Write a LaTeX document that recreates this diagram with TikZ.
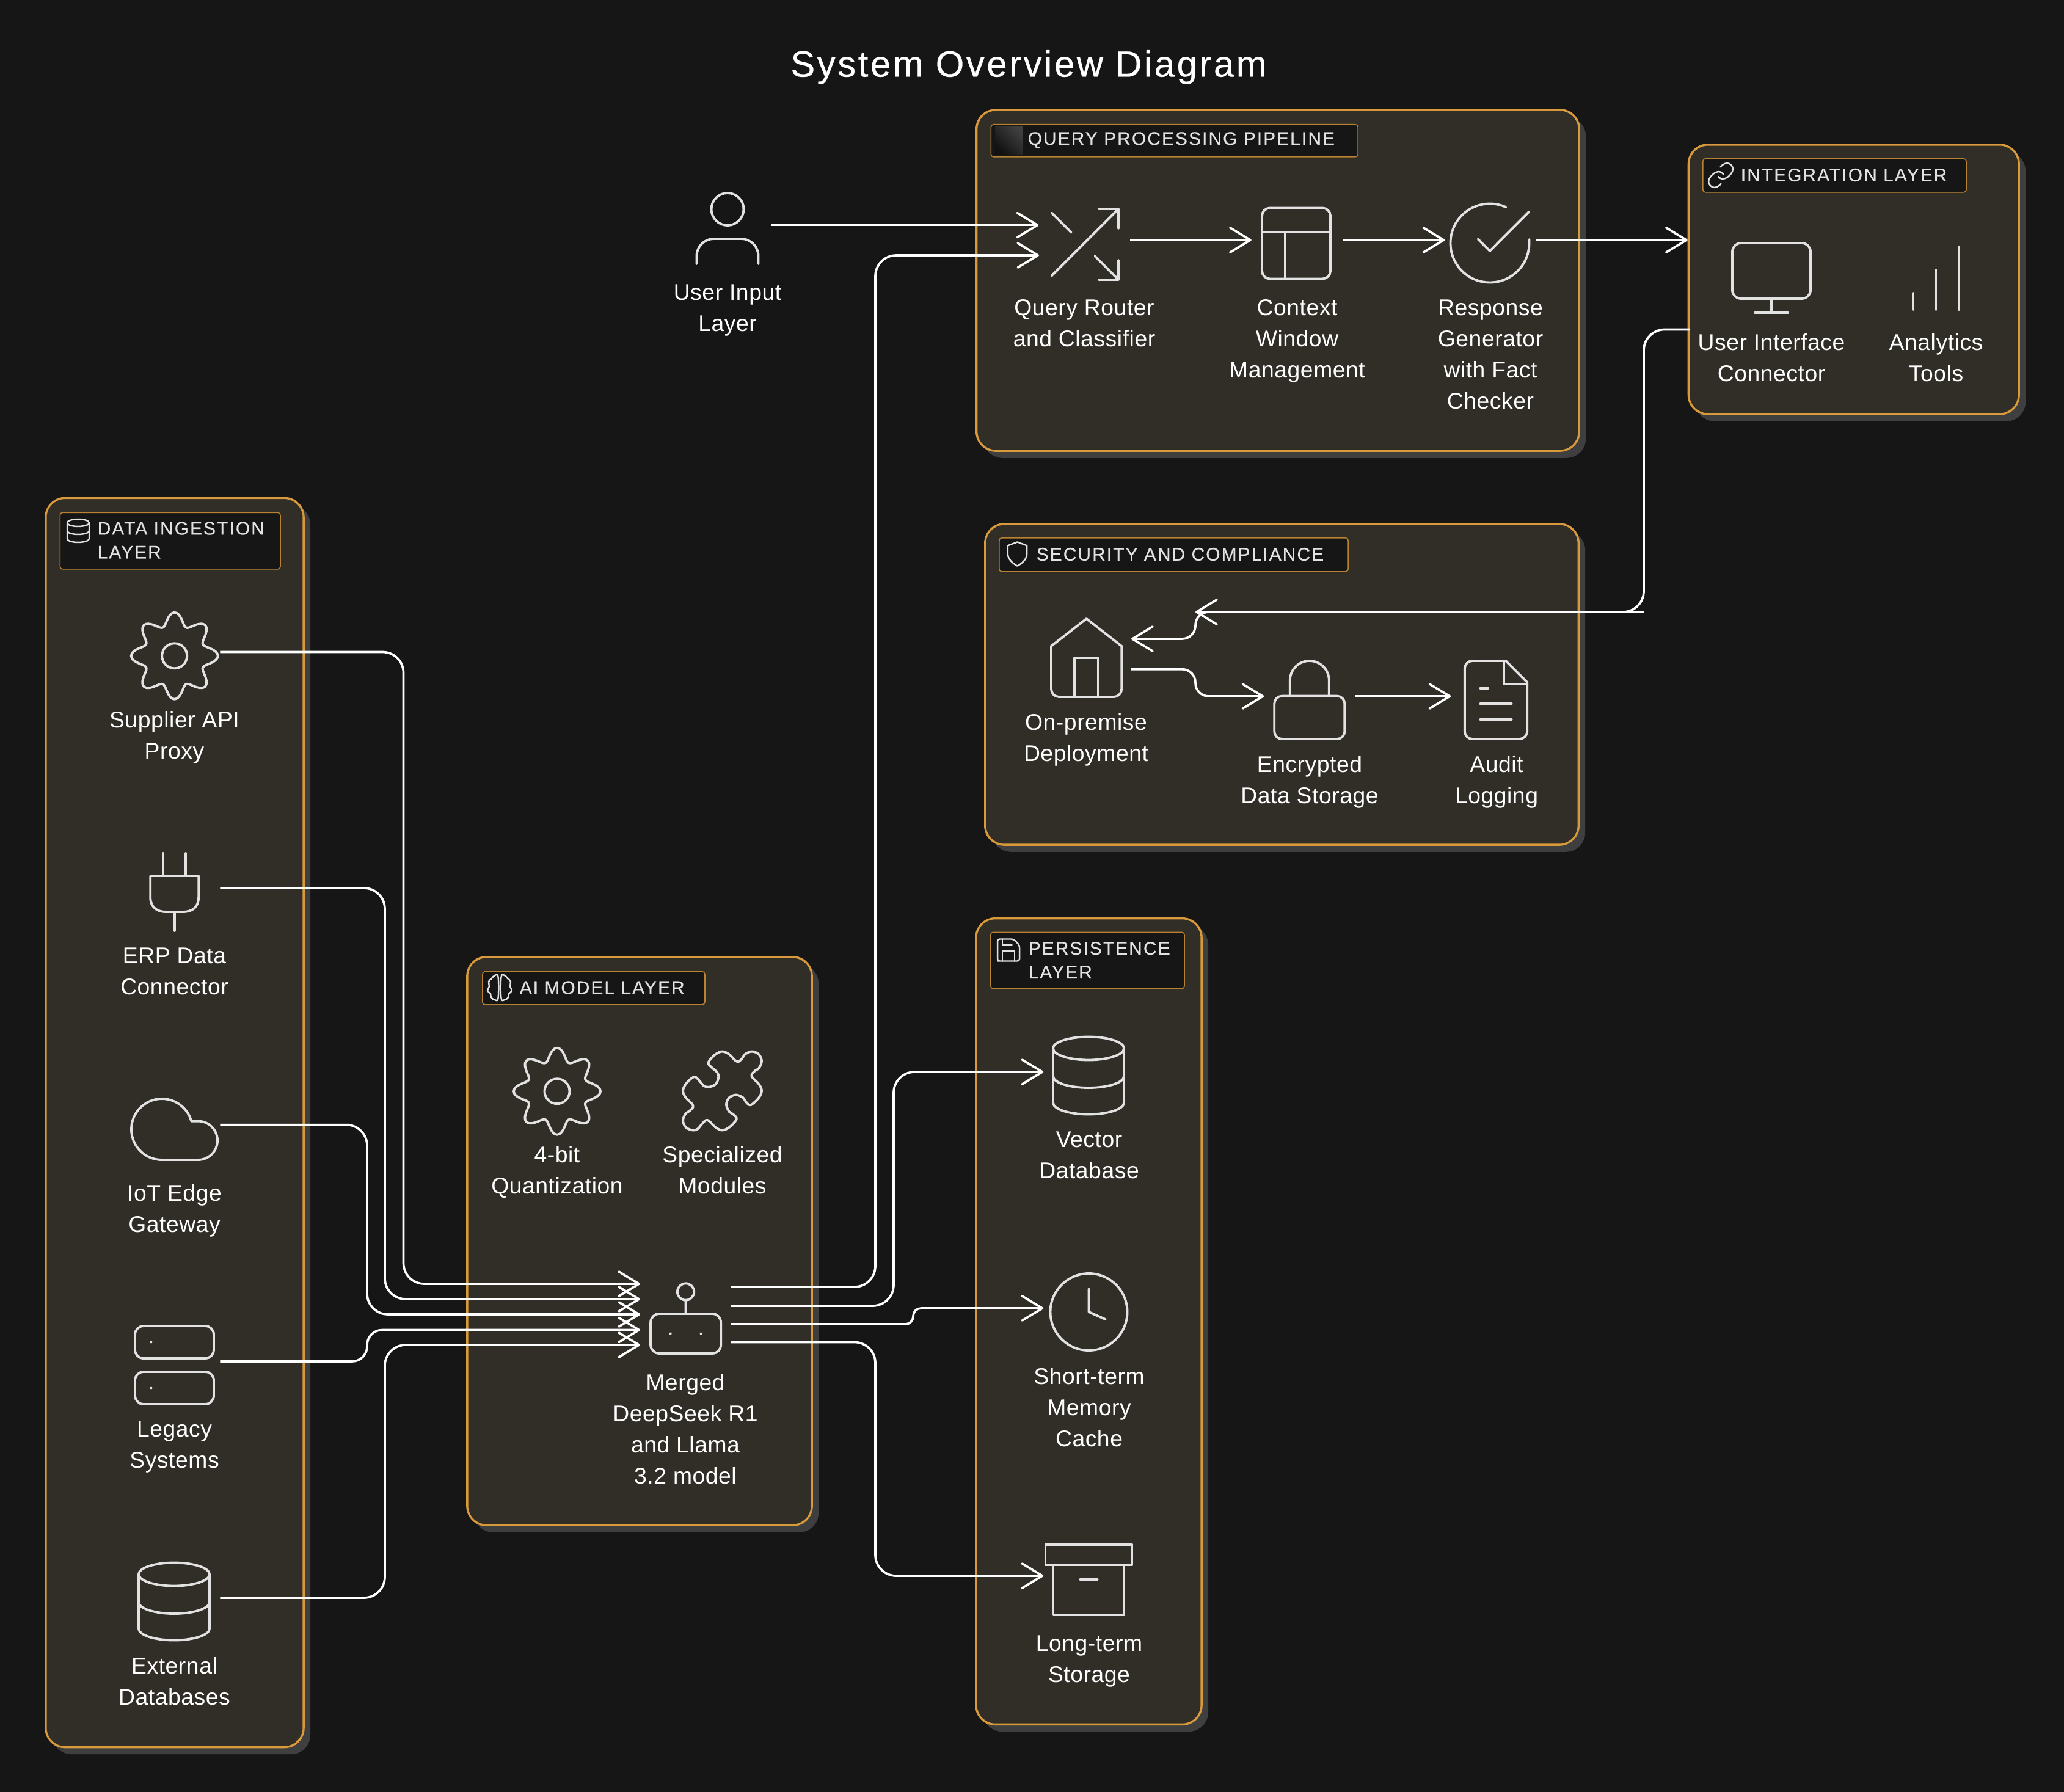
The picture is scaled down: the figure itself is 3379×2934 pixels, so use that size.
\documentclass[tikz,border=0pt]{standalone}
\usepackage{fontspec}
\usepackage{tikz}
\usetikzlibrary{arrows.meta, positioning, shadows}
\setmainfont{Liberation Sans}
\newfontfamily\captionface{Liberation Sans}[LetterSpace=1.5]
\newfontfamily\headface{Liberation Sans}[FakeBold=0.3,LetterSpace=7]
\newfontfamily\titleface{Liberation Sans}[FakeBold=0.4,LetterSpace=6]

\definecolor{bgdark}{HTML}{161616}
\definecolor{panelfill}{HTML}{312E27}
\definecolor{panelline}{HTML}{D99A3C}
\definecolor{headline}{HTML}{B98231}
\definecolor{shadowgrey}{HTML}{3F3F3F}
\definecolor{iconwhite}{HTML}{E2E2E2}

\tikzset{
    panel/.style={draw=panelline, fill=panelfill, line width=0.95pt, rounded corners=9pt, inner sep=0pt,
        drop shadow={shadow xshift=3.1pt, shadow yshift=-3.3pt, opacity=1, fill=shadowgrey}},
    head/.style={draw=headline, fill=bgdark, line width=0.45pt, rounded corners=1.2pt, inner sep=0pt, anchor=north west},
    headtext/.style={text=iconwhite, inner sep=0pt, anchor=west, align=left, font=\headface\fontsize{8.5pt}{11.1pt}\selectfont},
    service/.style={minimum width=1.48cm, minimum height=1.48cm, inner sep=0pt},
    caption/.style={text=white, inner sep=0pt, align=center, font=\captionface\fontsize{10.6pt}{14.5pt}\selectfont},
    iconline/.style={draw=iconwhite, line width=1.1pt, line cap=round, line join=round},
    tinyline/.style={draw=iconwhite, line width=0.7pt, line cap=round, line join=round},
    flow/.style={draw=white, line width=1.05pt, rounded corners=9.7pt},
    lucide/.style={x=#1*0.01cm, y=-#1*0.01cm, shift={(-12,-12)}},
    % icons, drawn around the point they are placed at
    gearicon/.pic={
        \draw[iconline] plot[domain=0:360, samples=121, smooth] (\x:{60.5+10.5*cos(8*\x)}) -- cycle;
        \draw[iconline] (0,0) circle[radius=20.5];
    },
    plugicon/.pic={
        \draw[iconline] (-18.7,-63) -- (-18.7,-26) (18.7,-63) -- (18.7,-26) (0,33) -- (0,64);
        \draw[iconline] (-39.5,-26) -- (39.5,-26) -- (39.5,9) .. controls (39.5,26) and (28,33) .. (14,33)
            -- (-14,33) .. controls (-28,33) and (-39.5,26) .. (-39.5,9) -- cycle;
    },
    cloudicon/.pic={
        \draw[iconline] (38.8,51) -- (-20.5,51) arc[start angle=90, end angle=344.5, radius=50]
            -- (38.8,-12.4) arc[start angle=270, end angle=450, radius=31.7] -- cycle;
    },
    servericon/.pic={
        \draw[iconline, rounded corners=4pt] (-64.5,-64) rectangle (64.5,-11);
        \draw[iconline, rounded corners=4pt] (-64.5,11) rectangle (64.5,64);
        \fill[iconwhite] (-38,-37.5) circle[radius=2] (-38,37.5) circle[radius=2];
    },
    dbicon/.pic={
        \draw[iconline] (0,-44.5) ellipse[x radius=58, y radius=19];
        \draw[iconline] (-58,-44.5) -- (-58,44.5) arc[start angle=180, end angle=0, x radius=58, y radius=19] -- (58,-44.5);
        \draw[iconline] (-58,1) arc[start angle=180, end angle=0, x radius=58, y radius=19];
    },
    usericon/.pic={
        \draw[iconline] (0,-31.5) circle[radius=26.5];
        \draw[iconline, rounded corners=8pt] (-50.5,58) -- (-50.5,17) -- (50.5,17) -- (50.5,58);
    },
    shuffleicon/.pic={
        \begin{scope}[lucide=6.45]
        \draw[iconline] (16,3) -- (21,3) -- (21,8) (4,20) -- (21,3) (21,16) -- (21,21) -- (16,21) (15,15) -- (21,21) (4,4) -- (9,9);
        \end{scope}
    },
    layouticon/.pic={
        \draw[iconline, rounded corners=3.7pt] (-56,-58) rectangle (56,58);
        \draw[iconline] (-56,-18) -- (56,-18) (-18,-18) -- (-18,58);
    },
    checkicon/.pic={
        \begin{scope}[lucide=6.45]
        \draw[iconline] (22,11.08) -- (22,12) arc[start angle=0, end angle=294, radius=10];
        \draw[iconline] (22,4) -- (12,14.01) -- (9,11.01);
        \end{scope}
    },
    monitoricon/.pic={
        \draw[iconline, rounded corners=4pt] (-64,-57) rectangle (64,34);
        \draw[iconline] (0,34) -- (0,57) (-27,57) -- (27,57);
    },
    barsicon/.pic={
        \draw[iconline] (-37.5,24.5) -- (-37.5,51.5) (0,-13.5) -- (0,51.5) (37.5,-51.5) -- (37.5,51.5);
    },
    homeicon/.pic={
        \begin{scope}[lucide=6.4]
        \draw[iconline] (3,9) -- (12,2) -- (21,9) -- (21,20) arc[start angle=0, end angle=90, radius=2]
            -- (5,22) arc[start angle=90, end angle=180, radius=2] -- cycle;
        \draw[iconline] (9,22) -- (9,12) -- (15,12) -- (15,22);
        \end{scope}
    },
    lockicon/.pic={
        \begin{scope}[lucide=6.4]
        \draw[iconline, rounded corners=3.6pt] (3,11) rectangle (21,22);
        \draw[iconline] (7,11) -- (7,7) arc[start angle=180, end angle=360, radius=5] -- (17,11);
        \end{scope}
    },
    fileicon/.pic={
        \begin{scope}[lucide=6.4]
        \draw[iconline] (14.5,2) -- (6,2) arc[start angle=270, end angle=180, radius=2] -- (4,20)
            arc[start angle=180, end angle=90, radius=2] -- (18,22) arc[start angle=90, end angle=0, radius=2] -- (20,7.5) -- cycle;
        \draw[iconline] (14,2) -- (14,8) -- (20,8) (16,13) -- (8,13) (16,17) -- (8,17) (10,9) -- (8,9);
        \end{scope}
    },
    clockicon/.pic={
        \draw[iconline] (0,0) circle[radius=63];
        \draw[iconline] (0,-38) -- (0,0) -- (27,12);
    },
    archiveicon/.pic={
        \draw[iconline] (-71,-57) rectangle (71,-24);
        \draw[iconline] (-58,-24) -- (-58,58) -- (58,58) -- (58,-24) (-14,0) -- (14,0);
    },
    boticon/.pic={
        \draw[iconline, rounded corners=4pt] (-57.5,-14) rectangle (57.5,51);
        \draw[iconline] (0,-50) circle[radius=13.7] (0,-36.3) -- (0,-14);
        \fill[iconwhite] (-25,18.5) circle[radius=2] (25,18.5) circle[radius=2];
    },
    puzzleicon/.pic={
        \begin{scope}[lucide=6.45]
        \draw[iconline] plot[smooth cycle, tension=0.55] coordinates {
            (19.44,7.85) (19.73,8.73) (21.3,10.3) (22,12) (21.3,13.7) (19.69,15.31) (18.85,15.59) (17.88,14.66)
            (17.27,13.73) (15.5,13) (13.73,13.73) (13,15.5) (13.73,17.27) (14.67,17.88) (15.6,18.85) (15.32,19.69)
            (13.7,21.3) (12,22) (10.3,21.3) (8.73,19.73) (7.85,19.44) (6.83,20.41) (5.75,21.67) (4.5,22) (2.73,21.27)
            (2,19.5) (2.73,17.73) (3.59,17.17) (4.56,16.15) (4.27,15.27) (2.7,13.7) (2,12) (2.7,10.3) (4.23,8.77)
            (5.15,8.47) (6.22,9.48) (7.29,10.7) (8.54,11.04) (10.31,10.31) (11.04,8.54) (10.7,7.29) (9.48,6.22)
            (8.47,5.15) (8.77,4.23) (10.3,2.7) (12,2) (13.7,2.7) (15.27,4.27) (16.15,4.56) (17.17,3.59) (17.73,2.73)
            (19.5,2) (21.27,2.73) (22,4.5) (21.27,6.27) (20.41,6.83)};
        \end{scope}
    },
    % header icons
    tinydb/.pic={
        \draw[tinyline] (0,-13) ellipse[x radius=18, y radius=6];
        \draw[tinyline] (-18,-13) -- (-18,13) arc[start angle=180, end angle=0, x radius=18, y radius=6] -- (18,-13);
        \draw[tinyline] (-18,0) arc[start angle=180, end angle=0, x radius=18, y radius=6];
    },
    tinybrain/.pic={
        \foreach \s in {1,-1} {
            \draw[tinyline, xscale=\s] plot[smooth cycle, tension=0.7] coordinates {
                (2.5,-17) (8,-20) (13,-15) (18,-10) (17,-2) (20,5) (15,10) (14,16) (8,20) (2.5,17)};
        }
    },
    tinysave/.pic={
        \begin{scope}[lucide=2]
        \draw[tinyline, rounded corners=1pt] (5,21) -- (3,21) -- (3,3) -- (16,3) -- (21,8) -- (21,21) -- cycle;
        \draw[tinyline] (17,21) -- (17,13) -- (7,13) -- (7,21) (7,3) -- (7,8) -- (15,8);
        \end{scope}
    },
    tinyshield/.pic={
        \begin{scope}[lucide=1.96]
        \draw[tinyline] (12,22) .. controls (12,22) and (20,18) .. (20,12) -- (20,5) -- (12,2) -- (4,5) -- (4,12)
            .. controls (4,18) and (12,22) .. (12,22) -- cycle;
        \end{scope}
    },
    tinylink/.pic={
        \begin{scope}[lucide=2]
        \draw[tinyline] plot[smooth, tension=0.6] coordinates {(10,13) (11.5,14.33) (14,15) (17.54,13.54) (20.54,10.54)
            (22,7) (20.54,3.47) (17,2) (13.47,3.47) (11.75,5.18)};
        \draw[tinyline] plot[smooth, tension=0.6] coordinates {(14,11) (12.5,9.67) (10,9) (6.46,10.46) (3.46,13.46)
            (2,17) (3.46,20.53) (7,22) (10.53,20.53) (12.25,18.82)};
        \end{scope}
    }
}

\begin{document}
\begin{tikzpicture}[
    x=0.01cm, y=-0.01cm,
    node distance=0.22cm,
    >={Straight Barb[length=9.4pt, width=11.4pt, round]}
]

\fill[bgdark] (0,0) rectangle (3379,2934);
\useasboundingbox (0,0) rectangle (3379,2934);

\node (title) [text=white, inner sep=0pt, font=\titleface\fontsize{17pt}{20pt}\selectfont] at (1684,110) {System Overview Diagram};

% panels
\node (dataingest) [panel, minimum width=4.22cm, minimum height=20.44cm] at (286,1838) {};
\node (aimodel) [panel, minimum width=5.64cm, minimum height=9.30cm] at (1047,2032) {};
\node (persistence) [panel, minimum width=3.69cm, minimum height=13.19cm] at (1782.5,2163.5) {};
\node (querypipe) [panel, minimum width=9.86cm, minimum height=5.58cm] at (2092,459) {};
\node (security) [panel, minimum width=9.71cm, minimum height=5.25cm] at (2098.5,1120.5) {};
\node (integration) [panel, minimum width=5.405cm, minimum height=4.41cm] at (3034.75,457.5) {};

% panel headers
\node (datahead) [head, minimum width=3.605cm, minimum height=0.925cm] at (97.5,838.5) {};
\node (datatitle) [headtext] at (159,884.5) {DATA INGESTION\\LAYER};
\pic at (128,869) {tinydb};
\node (aihead) [head, minimum width=3.64cm, minimum height=0.54cm] at (789,1590) {};
\node (aititle) [headtext] at (850,1617) {AI MODEL LAYER};
\pic at (818,1617) {tinybrain};
\node (persisthead) [head, minimum width=3.17cm, minimum height=0.925cm] at (1621,1525.5) {};
\node (persisttitle) [headtext] at (1683,1572) {PERSISTENCE\\LAYER};
\pic at (1651,1555.5) {tinysave};
\node (queryhead) [head, minimum width=6.004cm, minimum height=0.53cm] at (1621.6,203) {};
\node (querytitle) [headtext] at (1682,229.5) {QUERY PROCESSING PIPELINE};
\node (queryglyph) [shade, left color=black!20!bgdark, right color=shadowgrey, shading angle=135, minimum width=0.45cm, minimum height=0.45cm, inner sep=0pt] at (1651.5,229.5) {};
\node (securityhead) [head, minimum width=5.71cm, minimum height=0.55cm] at (1635,880) {};
\node (securitytitle) [headtext] at (1696,907.5) {SECURITY AND COMPLIANCE};
\pic at (1665.5,907) {tinyshield};
\node (integrationhead) [head, minimum width=4.31cm, minimum height=0.55cm] at (2787,259) {};
\node (integrationtitle) [headtext] at (2849,286.5) {INTEGRATION LAYER};
\pic at (2817,287) {tinylink};

% services
\node (userinput) [service] at (1187,368.6) {};
\pic at (1191,374) {usericon};
\node (userlabel) [caption, below=of userinput, xshift=0.04cm] {User Input\\Layer};

\node (supplier) [service] at (285.5,1067.5) {};
\pic at (285.7,1073.8) {gearicon};
\node (supplierlabel) [caption, below=of supplier] {Supplier API\\Proxy};
\node (erp) [service] at (285.5,1454) {};
\pic at (285.7,1460) {plugicon};
\node (erplabel) [caption, below=of erp] {ERP Data\\Connector};
\node (iot) [service] at (285.5,1841.6) {};
\pic at (285.5,1848) {cloudicon};
\node (iotlabel) [caption, below=of iot] {IoT Edge\\Gateway};
\node (legacy) [service] at (285.5,2229) {};
\pic at (285.5,2235) {servericon};
\node (legacylabel) [caption, below=of legacy] {Legacy\\Systems};
\node (external) [service] at (285.5,2616) {};
\pic at (285,2622) {dbicon};
\node (externallabel) [caption, below=of external] {External\\Databases};

\node (quantize) [service] at (912,1779) {};
\pic at (912,1786.7) {gearicon};
\node (quantizelabel) [caption, below=of quantize] {4-bit\\Quantization};
\node (modules) [service] at (1182.5,1779) {};
\pic at (1182.5,1786) {puzzleicon};
\node (moduleslabel) [caption, below=of modules] {Specialized\\Modules};
\node (merged) [service] at (1122,2152) {};
\pic at (1122.6,2165) {boticon};
\node (mergedlabel) [caption, below=of merged] {Merged\\DeepSeek R1\\and Llama\\3.2 model};

\node (vector) [service] at (1783,1755) {};
\pic at (1782,1761) {dbicon};
\node (vectorlabel) [caption, below=of vector] {Vector\\Database};
\node (shortterm) [service] at (1783,2142) {};
\pic at (1782.5,2148) {clockicon};
\node (shorttermlabel) [caption, below=of shortterm] {Short-term\\Memory\\Cache};
\node (longterm) [service] at (1783,2580) {};
\pic at (1782.5,2586) {archiveicon};
\node (longtermlabel) [caption, below=of longterm] {Long-term\\Storage};

\node (router) [service] at (1775,393) {};
\pic at (1773,400) {shuffleicon};
\node (routerlabel) [caption, below=of router] {Query Router\\and Classifier};
\node (context) [service] at (2123.5,393) {};
\pic at (2122,398.5) {layouticon};
\node (contextlabel) [caption, below=of context] {Context\\Window\\Management};
\node (response) [service] at (2440,393) {};
\pic at (2439,398) {checkicon};
\node (responselabel) [caption, below=of response] {Response\\Generator\\with Fact\\Checker};

\node (monitor) [service] at (2900,448.7) {};
\pic at (2900,455) {monitoricon};
\node (monitorlabel) [caption, below=of monitor] {User Interface\\Connector};
\node (analytics) [service] at (3169.5,448.7) {};
\pic at (3169.5,455.5) {barsicon};
\node (analyticslabel) [caption, below=of analytics] {Analytics\\Tools};

\node (onprem) [service] at (1778,1071) {};
\pic at (1778.6,1077) {homeicon};
\node (onpremlabel) [caption, below=of onprem] {On-premise\\Deployment};
\node (encrypted) [service] at (2144,1140) {};
\pic at (2143.8,1146) {lockicon};
\node (encryptedlabel) [caption, below=of encrypted] {Encrypted\\Data Storage};
\node (audit) [service] at (2450,1140) {};
\pic at (2449,1146) {fileicon};
\node (auditlabel) [caption, below=of audit] {Audit\\Logging};

% ports of the merged model and of the integration panel
\coordinate (mergedin1) at (1048,2102);
\coordinate (mergedin2) at (1048,2127);
\coordinate (mergedin3) at (1048,2152);
\coordinate (mergedin4) at (1048,2177.5);
\coordinate (mergedin5) at (1048,2202);
\coordinate (mergedout1) at (1196,2107);
\coordinate (mergedout2) at (1196,2138);
\coordinate (mergedout3) at (1196,2168);
\coordinate (mergedout4) at (1196,2197.5);
\coordinate (routerin) at (1701,418);
\coordinate (integrationout) at (2766,539.5);
\coordinate (onpremin) at (1852,1046);
\coordinate (onpremout) at (1852,1095.7);

\draw[->, flow] (userinput.east) -- (userinput.east -| router.west);
\draw[->, flow] (router.east) -- (context.west);
\draw[->, flow] (context.east) -- (response.west);
\draw[->, flow] (response.east) -- (response.east -| integration.west);
\draw[->, flow] (encrypted.east) -- (audit.west);

\draw[->, flow] (supplier.east) -| (660.5,2102) -- (mergedin1);
\draw[->, flow] (erp.east) -| (630,2127) -- (mergedin2);
\draw[->, flow] (iot.east) -| (601,2152) -- (mergedin3);
\draw[->, flow, rounded corners=7pt] (legacy.east) -| (601,2177.5) -- (mergedin4);
\draw[->, flow] (external.east) -| (630,2202) -- (mergedin5);

\draw[->, flow] (mergedout1) -| (1433,418) -- (routerin);
\draw[->, flow] (mergedout2) -| (1463,1755) -- (vector.west);
\draw[->, flow, rounded corners=3.6pt] (mergedout3) -| (1495,2142) -- (shortterm.west);
\draw[->, flow] (mergedout4) -| (1433,2580) -- (longterm.west);

\draw[->, flow] (integrationout) -| (2691,1002) -- (1957,1002);
\draw[->, flow, rounded corners=6.2pt] (2691,1002) -- (1957,1002) -- (1957,1046) -- (onpremin);
\draw[->, flow, rounded corners=6.2pt] (onpremout) -| (1957,1140) -- (encrypted.west);

\end{tikzpicture}
\end{document}
